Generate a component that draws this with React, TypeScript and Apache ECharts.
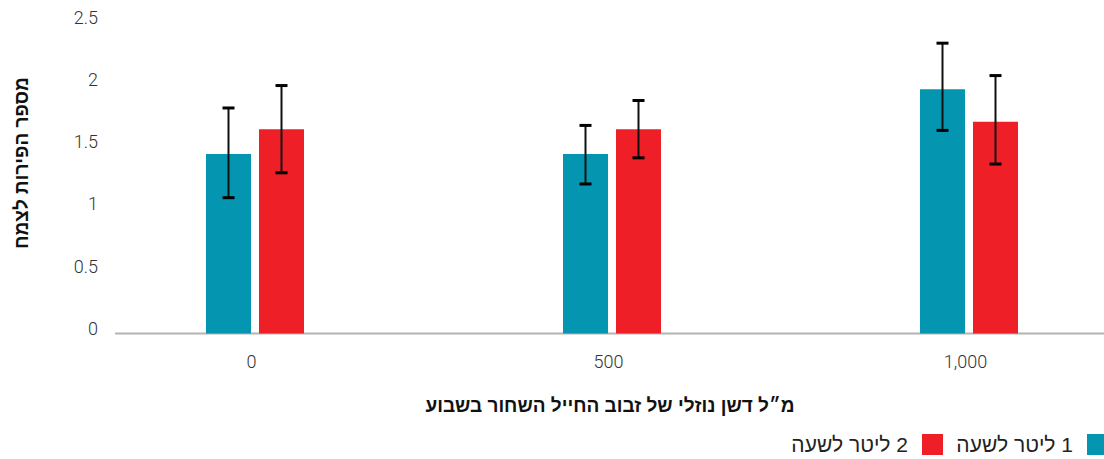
import React, { useEffect, useRef } from "react";
import * as echarts from "echarts";

// Fertiliser dose (ml of black soldier fly liquid fertiliser per week)
const categories = ["0", "500", "1,000"];
const seriesNames = ["1 ליטר לשעה", "2 ליטר לשעה"];
// Mean fruits per plant
const flow1Values = [1.44, 1.44, 1.96];
const flow2Values = [1.64, 1.64, 1.70];
// Error bar ranges [low, high]
const flow1Low = [1.09, 1.2, 1.63];
const flow1High = [1.81, 1.67, 2.33];
const flow2Low = [1.29, 1.41, 1.36];
const flow2High = [1.99, 1.87, 2.07];
const yTicks = [0, 0.5, 1, 1.5, 2, 2.5];

const yTitle = "מספר הפירות לצמח";
const xTitle = "מ״ל דשן נוזלי של זבוב החייל השחור בשבוע";

const TEAL = "#0495b0";
const RED = "#ee1f26";
const BAR_W = 45;
const BAR_GAP = 8;
const CHART_W = 1150;
const HEB_FONT = "'Liberation Sans', 'DejaVu Sans', sans-serif";
const NUM_FONT = "Roboto, 'Liberation Sans', sans-serif";

function errorSeries(low: number[], high: number[], offset: number) {
  return {
    type: "custom",
    silent: true,
    z: 5,
    data: low.map((l, i) => [i, l, high[i]]),
    renderItem: (_params: any, api: any) => {
      const idx = api.value(0);
      const pLo = api.coord([idx, api.value(1)]);
      const pHi = api.coord([idx, api.value(2)]);
      const cx = pLo[0] + offset;
      const cap = 6;
      return {
        type: "group",
        children: [
          {
            type: "line",
            shape: { x1: cx, y1: pHi[1], x2: cx, y2: pLo[1] },
            style: { stroke: "#111", lineWidth: 2 },
          },
          {
            type: "line",
            shape: { x1: cx - cap, y1: pHi[1], x2: cx + cap, y2: pHi[1] },
            style: { stroke: "#000", lineWidth: 3 },
          },
          {
            type: "line",
            shape: { x1: cx - cap, y1: pLo[1], x2: cx + cap, y2: pLo[1] },
            style: { stroke: "#000", lineWidth: 3 },
          },
        ],
      };
    },
  };
}

// One legend entry, marker on the right of its label (right-to-left reading)
function legendItem(name: string, rightEdge: number) {
  return {
    data: [name],
    right: CHART_W - rightEdge,
    top: 434,
    padding: 0,
    align: "right",
    itemWidth: 21,
    itemHeight: 21,
    icon: "rect",
    // right-to-left mark keeps the leading digit on the right side
    formatter: (n: string) => "\u200F" + n,
    textStyle: {
      fontFamily: HEB_FONT,
      fontSize: 21,
      color: "#222",
      padding: [0, 9, 0, 0],
    },
  };
}

export default function App() {
  const ref = useRef<HTMLDivElement>(null);

  useEffect(() => {
    if (!ref.current) return;
    const chart = echarts.init(ref.current, undefined, { renderer: "svg" });
    const half = (BAR_W + BAR_GAP) / 2;
    chart.setOption({
      animation: false,
      backgroundColor: "#ffffff",
      grid: { left: 76.5, right: CHART_W - 1147.5, top: 22, bottom: 125.5, containLabel: false },
      legend: [legendItem(seriesNames[0], 1108), legendItem(seriesNames[1], 943)],
      xAxis: {
        type: "category",
        data: categories,
        axisLine: { show: false },
        axisTick: { show: false },
        axisLabel: {
          margin: 19,
          fontFamily: NUM_FONT,
          fontWeight: 300,
          fontSize: 18,
          color: "#333",
          padding: [0, 7, 0, 0],
        },
      },
      yAxis: {
        type: "value",
        min: yTicks[0],
        max: yTicks[yTicks.length - 1],
        interval: 0.5,
        offset: -29.5,
        axisLine: { show: false },
        axisTick: { show: false },
        splitLine: { show: false },
        axisLabel: {
          margin: 8,
          fontFamily: NUM_FONT,
          fontWeight: 300,
          fontSize: 18,
          color: "#333",
          verticalAlign: "bottom",
          lineHeight: 10,
        },
      },
      graphic: [
        {
          type: "line",
          shape: { x1: 115, y1: 333.5, x2: 1104, y2: 333.5 },
          style: { stroke: "#b3b3b3", lineWidth: 2 },
          z: 1,
        },
        {
          type: "text",
          x: 21,
          y: 163,
          rotation: Math.PI / 2,
          style: {
            text: yTitle,
            fontFamily: HEB_FONT,
            fontWeight: "bold",
            fontSize: 19,
            fill: "#111",
            align: "center",
            verticalAlign: "middle",
          },
        },
        {
          type: "text",
          x: 610,
          y: 405,
          style: {
            text: xTitle,
            fontFamily: HEB_FONT,
            fontWeight: "bold",
            fontSize: 19,
            fill: "#111",
            align: "center",
            verticalAlign: "middle",
          },
        },
      ],
      series: [
        {
          name: seriesNames[0],
          type: "bar",
          data: flow1Values,
          barWidth: BAR_W,
          barGap: `${(BAR_GAP / BAR_W) * 100}%`,
          itemStyle: { color: TEAL },
          z: 2,
        },
        {
          name: seriesNames[1],
          type: "bar",
          data: flow2Values,
          barWidth: BAR_W,
          itemStyle: { color: RED },
          z: 2,
        },
        errorSeries(flow1Low, flow1High, -half),
        errorSeries(flow2Low, flow2High, half),
      ],
    });
    return () => chart.dispose();
  }, []);

  return (
    <div
      style={{
        position: "fixed",
        left: 0,
        top: 0,
        width: 1104,
        height: 459,
        overflow: "hidden",
        background: "#fff",
      }}
    >
      <div ref={ref} style={{ width: CHART_W, height: 459 }} />
    </div>
  );
}
